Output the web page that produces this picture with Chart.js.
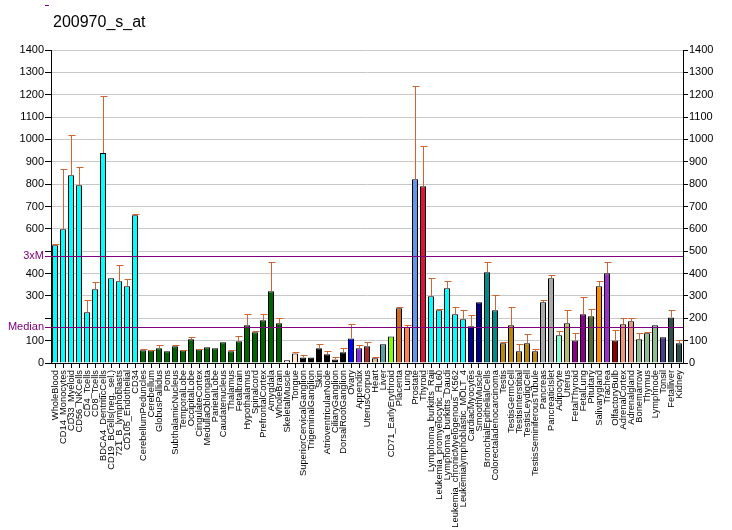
<!DOCTYPE html>
<html>
<head>
<meta charset="utf-8">
<script src="https://cdn.jsdelivr.net/npm/chart.js@4"></script>
<style>
  html, body { margin: 0; padding: 0; background: #fff; }
  #wrap { width: 732px; height: 530px; position: relative; }
</style>
</head>
<body>
<div id="wrap"><canvas id="id_canv"></canvas></div>
<script>
// categories, left to right
const tissues = [
  'WholeBlood', 'CD14_Monocytes', 'CD33_Myeloid', 'CD56_NKCells', 'CD4_Tcells', 'CD8_Tcells',
  'BDCA4_DentriticCells', 'CD19_BCells(neg._sel.)', '721_B_lymphoblasts', 'CD105_Endothelial', 'CD34',
  'CerebellumPeduncles', 'Cerebellum', 'GlobusPallidus', 'Pons', 'SubthalamicNucleus', 'TemporalLobe',
  'OccipitalLobe', 'CingulateCortex', 'MedullaOblongata', 'ParietalLobe', 'Caudatenucleus', 'Thalamus',
  'Fetalbrain', 'Hypothalamus', 'Spinalcord', 'PrefrontalCortex', 'Amygdala', 'WholeBrain',
  'SkeletalMuscle', 'Tongue', 'SuperiorCervicalGanglion', 'TrigeminalGanglion', 'Skin',
  'AtrioventricularNode', 'CiliaryGanglion', 'DorsalRootGanglion', 'Ovary', 'Appendix', 'UterusCorpus',
  'Heart', 'Liver', 'CD71_EarlyErythroid', 'Placenta', 'Lung', 'Prostate', 'Thyroid',
  'Lymphoma_burkitts_Raji', 'Leukemia_promyelocytic_HL60', 'Lymphoma_burkitts_Daudi',
  'Leukemia_chronicMyelogenous_K562', 'Leukemialymphoblastic_MOLT_4', 'CardiacMyocytes', 'SmoothMuscle',
  'BronchialEpithelialCells', 'Colorectaladenocarcinoma', 'Testis', 'TestisGermCell', 'TestisInterstitial',
  'TestisLeydigCell', 'TestisSeminiferousTubule', 'Pancreas', 'PancreaticIslet', 'Adipocyte', 'Uterus',
  'FetalThyroid', 'FetalLung', 'Pituitary', 'Salivarygland', 'Trachea', 'OlfactoryBulb', 'AdrenalCortex',
  'Adrenalgland', 'Bonemarrow', 'Thymus', 'Lymphnode', 'Tonsil', 'Fetalliver', 'Kidney'
]

// expression values (bar heights)
const values = [
  527, 598, 840, 795, 227, 330, 939, 379, 366, 343, 661,
  57, 57, 66, 52, 75, 57, 106, 61, 70, 66, 93, 52, 97, 169, 137, 191, 321, 178,
  12, 43, 25, 25, 66, 39, 16, 48, 110, 66, 75, 21, 84, 119, 245, 160, 822, 791,
  299, 236, 334, 218, 196, 164, 272, 406, 236,
  88, 169, 52, 88, 52, 272, 379, 124, 178, 101, 218, 209, 343, 401,
  101, 173, 187, 106, 133, 169, 115, 204, 88
]

// top of the error whisker (same as value where none is drawn)
const errTops = [
  531, 867, 1018, 876, 281, 361, 1194, 379, 437, 375, 666,
  64, 60, 79, 52, 79, 60, 115, 64, 70, 66, 93, 57, 119, 218, 142, 218, 451, 200,
  12, 48, 34, 25, 84, 52, 25, 66, 173, 79, 93, 25, 84, 119, 249, 169, 1239, 970,
  379, 240, 366, 249, 236, 213, 272, 451, 303,
  93, 249, 84, 128, 61, 281, 393, 142, 236, 133, 294, 240, 366, 451,
  146, 200, 200, 133, 137, 169, 115, 236, 101
]

const yTicks = [0, 100, 200, 300, 400, 500, 600, 700, 800, 900, 1000, 1100, 1200, 1300, 1400]
const threeXM = 478
const median = 160

const barColors = [].concat(
  Array(11).fill('#00FFFF'),
  Array(18).fill('#006400'),
  ['#FFF5EE', '#FFE4C4'],
  Array(6).fill('#000000'),
  ['#0000FF', '#8A2BE2', '#A52A2A', '#DEB887', '#5F9EA0', '#7FFF00', '#D2691E', '#FF7F50', '#6495ED', '#DC143C'],
  Array(5).fill('#00FFFF'),
  ['#00008B', '#00008B', '#008B8B', '#008B8B'],
  Array(5).fill('#B8860B'),
  ['#A9A9A9', '#A9A9A9', '#7FFFD4', '#BDB76B', '#8B008B', '#8B008B', '#556B2F', '#FF8C00', '#9932CC',
   '#8B0000', '#E9967A', '#E9967A', '#8FBC8F', '#8FBC8F', '#8FBC8F', '#483D8B', '#2F4F4F', '#2F4F4F']
)

const purple = '#800080'

// error whiskers, reference lines, title and side labels
const extras = {
  id: 'extras',
  afterDatasetsDraw(chart) {
    const c = chart.ctx
    const x = chart.scales.x, y = chart.scales.y
    const area = chart.chartArea
    c.save()
    // whiskers
    c.strokeStyle = '#CC6633'
    c.lineWidth = 1
    errTops.forEach((top, i) => {
      if (top <= values[i]) return
      const px = Math.floor(x.getPixelForValue(i)) + 0.5
      const y0 = y.getPixelForValue(values[i])
      const y1 = Math.round(y.getPixelForValue(top)) + 0.5
      c.beginPath()
      c.moveTo(px, y0)
      c.lineTo(px, y1)
      c.moveTo(px - 3, y1)
      c.lineTo(px + 4, y1)
      c.stroke()
    })
    // 3xM and median lines
    c.strokeStyle = purple
    ;[threeXM, median].forEach(v => {
      const py = Math.round(y.getPixelForValue(v)) + 0.5
      c.beginPath()
      c.moveTo(area.left - 6, py)
      c.lineTo(area.right, py)
      c.stroke()
    })
    c.fillStyle = purple
    c.font = '11px "Liberation Sans", Arial, sans-serif'
    c.textAlign = 'right'
    c.textBaseline = 'middle'
    c.fillText('3xM', area.left - 7, y.getPixelForValue(threeXM))
    c.fillText('Median', area.left - 7, y.getPixelForValue(median))
    c.fillRect(45, 5, 4, 1)
    // title
    c.fillStyle = '#000'
    c.font = '16px "Liberation Sans", Arial, sans-serif'
    c.textAlign = 'left'
    c.textBaseline = 'alphabetic'
    c.fillText('200970_s_at', 53, 27)
    c.restore()
  }
}

const tickFont = { family: '"Liberation Sans", Arial, sans-serif', size: 11 }

new Chart(document.getElementById('id_canv'), {
  type: 'bar',
  data: {
    labels: tissues,
    datasets: [{
      data: values,
      backgroundColor: barColors,
      borderColor: '#000',
      borderWidth: 1,
      barPercentage: 0.75,
      categoryPercentage: 1
    }]
  },
  options: {
    responsive: true,
    maintainAspectRatio: false,
    animation: false,
    layout: { padding: { top: 50, left: 0, right: 0, bottom: 0 } },
    plugins: {
      legend: { display: false },
      title: { display: false },
      tooltip: { enabled: false }
    },
    scales: {
      x: {
        offset: true,
        grid: { offset: false, drawOnChartArea: false, tickLength: 5, tickColor: '#000' },
        border: { color: '#000' },
        ticks: {
          autoSkip: false, minRotation: 90, maxRotation: 90, padding: 2,
          color: '#000', font: { family: '"Liberation Sans", Arial, sans-serif', size: 9.3 }
        },
        afterFit(s) { s.height = 167 }
      },
      y: {
        position: 'left',
        min: 0, max: 1400,
        afterBuildTicks(s) { s.ticks = yTicks.map(v => ({ value: v })) },
        grid: { color: '#C8C8C8', tickLength: 6, tickColor: '#000' },
        border: { color: '#000' },
        ticks: {
          padding: 1, color: '#000', font: tickFont,
          callback: v => (v === 200 || v === 500) ? '' : String(v)
        },
        afterFit(s) { s.width = 51 }
      },
      y2: {
        position: 'right',
        min: 0, max: 1400,
        afterBuildTicks(s) { s.ticks = yTicks.map(v => ({ value: v })) },
        grid: { drawOnChartArea: false, tickLength: 5, tickColor: '#000' },
        border: { color: '#000' },
        ticks: { padding: 1, color: '#000', font: tickFont, callback: v => String(v) },
        afterFit(s) { s.width = 49 }
      }
    }
  },
  plugins: [extras]
})
</script>
</body>
</html>
